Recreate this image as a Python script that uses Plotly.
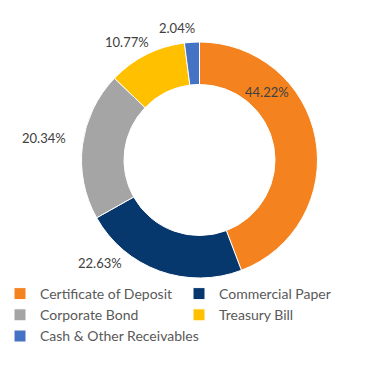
import plotly.graph_objects as go

categories = ["Certificate of Deposit", "Commercial Paper", "Corporate Bond",
              "Treasury Bill", "Cash & Other Receivables"]
values = [44.22, 22.63, 20.34, 10.77, 2.04]
colors = ["#F4831F", "#06386E", "#A5A5A5", "#FFC000", "#4472C4"]

# label centre positions in pixels (x, y from top)
label_px = [(267, 92), (100, 263), (44, 138), (127, 42), (177, 28)]

W, H = 369, 390
fig = go.Figure(go.Pie(
    labels=categories, values=values, hole=0.64, sort=False,
    direction="clockwise", rotation=0,
    marker=dict(colors=colors, line=dict(color="white", width=1)),
    textinfo="none", hoverinfo="label+percent",
    domain=dict(x=[81 / W, 318 / W], y=[(H - 278) / H, (H - 42) / H]),
))

for v, (px, py) in zip(values, label_px):
    fig.add_annotation(x=px / W, y=1 - py / H, xref="paper", yref="paper",
                       xanchor="center", yanchor="middle",
                       text=f"{v:.2f}%", showarrow=False,
                       font=dict(family="Lato", size=13, color="#404040"))

fig.update_layout(
    width=W, height=H, margin=dict(l=0, r=0, t=0, b=0, autoexpand=False),
    paper_bgcolor="white", plot_bgcolor="white",
    font=dict(family="Lato", size=13, color="#595959"),
    legend=dict(orientation="h", x=0, y=1 - 278 / H, xanchor="left", yanchor="top",
                entrywidth=134, entrywidthmode="pixels", traceorder="normal",
                font=dict(family="Lato", size=14, color="#595959"),
                tracegroupgap=0),
    showlegend=True,
)
fig.write_html("out.html", config={"displayModeBar": False},
               post_script="document.body.style.margin='0';document.body.style.overflow='hidden';")
